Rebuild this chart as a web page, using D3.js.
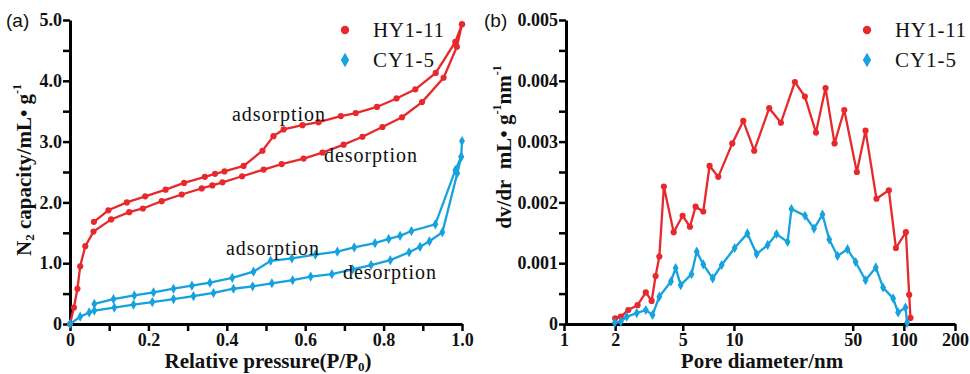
<!DOCTYPE html>
<html>
<head>
<meta charset="utf-8">
<script src="https://cdn.jsdelivr.net/npm/d3@7"></script>
<style>
  body { margin: 0; background: #fff; }
</style>
</head>
<body>
<svg id="chart" width="970" height="374"></svg>
<script>
// (a) isotherms: [P/P0, volume]
var hyAds = [[0.061,1.68],[0.098,1.87],[0.145,2.00],[0.192,2.10],[0.244,2.21],[0.291,2.32],[0.344,2.42],[0.370,2.47],[0.394,2.51],[0.443,2.60],[0.491,2.85],[0.519,3.09],[0.545,3.20],[0.593,3.27],[0.634,3.32],[0.691,3.42],[0.729,3.47],[0.783,3.57],[0.833,3.71],[0.881,3.86],[0.933,4.13],[0.983,4.64],[1.0,4.93]];
var hyDes = [[0,0],[0.010,0.27],[0.019,0.58],[0.026,0.95],[0.039,1.28],[0.060,1.52],[0.105,1.72],[0.151,1.84],[0.186,1.90],[0.234,2.02],[0.285,2.13],[0.336,2.23],[0.363,2.28],[0.389,2.33],[0.439,2.43],[0.494,2.54],[0.540,2.63],[0.596,2.72],[0.644,2.82],[0.698,2.95],[0.746,3.08],[0.797,3.24],[0.847,3.40],[0.898,3.65],[0.953,4.05],[0.987,4.56],[1.0,4.93]];
var cyAds = [[0.062,0.33],[0.111,0.41],[0.164,0.47],[0.213,0.52],[0.264,0.58],[0.311,0.63],[0.357,0.68],[0.414,0.76],[0.468,0.86],[0.512,1.04],[0.566,1.08],[0.626,1.14],[0.682,1.19],[0.725,1.26],[0.778,1.33],[0.813,1.40],[0.842,1.45],[0.871,1.53],[0.932,1.64],[0.983,2.53],[0.998,2.75],[1.0,3.01]];
var cyDes = [[0,0],[0.026,0.12],[0.049,0.19],[0.062,0.22],[0.113,0.27],[0.162,0.32],[0.210,0.36],[0.264,0.41],[0.315,0.46],[0.366,0.51],[0.417,0.58],[0.466,0.62],[0.515,0.67],[0.568,0.72],[0.614,0.78],[0.668,0.82],[0.721,0.90],[0.768,0.97],[0.817,1.05],[0.865,1.18],[0.893,1.27],[0.917,1.36],[0.950,1.51],[0.988,2.48],[0.998,2.75]];

// (b) pore size distribution: [diameter nm, dv/dr]
var hyPore = [[2.00,0.000094],[2.16,0.00012],[2.39,0.00023],[2.71,0.00031],[3.03,0.00052],[3.28,0.00038],[3.46,0.00079],[3.64,0.00111],[3.87,0.00226],[4.42,0.00151],[4.99,0.00178],[5.51,0.00160],[5.95,0.00193],[6.60,0.00185],[7.19,0.00260],[8.09,0.00242],[9.78,0.00297],[11.35,0.00334],[13.16,0.00285],[16.13,0.00355],[18.9,0.00331],[22.84,0.00398],[26.16,0.00374],[30.4,0.00315],[34.6,0.00388],[39.1,0.00297],[44.6,0.00352],[52.9,0.00250],[59.5,0.00318],[69.0,0.00206],[81.6,0.00220],[89.8,0.00125],[102.8,0.00151],[107.5,0.00048],[109.4,0.00010]];
var cyPore = [[1.99,0.00002],[2.16,0.00004],[2.34,0.00012],[2.68,0.00018],[3.03,0.00023],[3.32,0.00015],[3.64,0.00045],[4.26,0.00070],[4.54,0.00092],[4.86,0.00064],[5.63,0.00082],[6.04,0.00119],[6.60,0.00098],[7.50,0.00075],[8.47,0.00097],[10.1,0.00125],[12.0,0.00149],[13.6,0.00115],[15.8,0.00130],[17.8,0.00148],[20.7,0.00135],[21.8,0.00189],[26.2,0.00178],[29.6,0.00157],[33.2,0.00180],[36.4,0.00139],[40.7,0.00112],[46.6,0.00123],[52.0,0.00102],[59.5,0.00072],[68.4,0.00093],[75.5,0.00060],[86.5,0.00042],[92.5,0.00019],[102.3,0.00027],[104.5,0.00002]];

var xTicksA = [0,0.1,0.2,0.3,0.4,0.5,0.6,0.7,0.8,0.9,1.0];
var yTicksA = [0,0.5,1,1.5,2,2.5,3,3.5,4,4.5,5];
var xTicksB = [1,2,5,10,50,100,200];
var yTicksB = [0,0.0005,0.001,0.0015,0.002,0.0025,0.003,0.0035,0.004,0.0045,0.005];
var seriesNames = ["HY1-11","CY1-5"];

var red = "#e8292c", blue = "#16a2de";
var svg = d3.select("#chart");
var plotTop = 20, plotBottom = 324;
var serif = "Liberation Serif, serif";

function styleAxis(g) {
  g.select(".domain").attr("stroke-width", 3).attr("stroke", "#000");
  g.selectAll(".tick line").attr("stroke-width", 2.5).attr("stroke", "#000");
  g.selectAll(".tick text").attr("fill", "#111")
    .attr("font-family", serif).attr("font-weight", "bold").attr("font-size", 18);
}

function drawMarkers(g, data, x, y, color, shape) {
  var line = d3.line().x(d => x(d[0])).y(d => y(d[1]));
  g.append("path").attr("d", line(data)).attr("fill", "none")
    .attr("stroke", color).attr("stroke-width", 2.3);
  g.selectAll(null).data(data).enter().append("path")
    .attr("transform", d => "translate(" + x(d[0]) + "," + y(d[1]) + ")")
    .attr("d", d3.symbol().type(shape).size(30)())
    .attr("fill", color);
}

function legend(x0, color1, color2) {
  var lg = svg.append("g");
  lg.append("path").attr("transform", "translate(" + x0 + ",30)")
    .attr("d", d3.symbol().type(d3.symbolCircle).size(55)()).attr("fill", color1);
  lg.append("path").attr("transform", "translate(" + x0 + ",60)")
    .attr("d", d3.symbol().type(d3.symbolDiamond).size(60)()).attr("fill", color2);
  lg.selectAll("text").data(seriesNames).enter().append("text")
    .attr("x", x0 + 28).attr("y", (d, i) => 37 + i * 30)
    .attr("font-family", serif).attr("font-size", 21)
    .attr("textLength", (d, i) => i == 0 ? 71 : 61)
    .attr("fill", "#111").text(d => d);
}

function label(x, y, txt) {
  svg.append("text").attr("x", x).attr("y", y).text(txt)
    .attr("font-family", serif).attr("font-size", 20)
    .attr("textLength", 93).attr("fill", "#111");
}

// ---------- panel (a)
var xa = d3.scaleLinear().domain([0, 1]).range([70, 462]);
var ya = d3.scaleLinear().domain([0, 5]).range([plotBottom, plotTop]);

svg.append("g").attr("transform", "translate(0," + plotBottom + ")")
  .call(d3.axisBottom(xa).tickValues(xTicksA).tickSize(7).tickSizeOuter(0)
    .tickFormat(d => (Math.round(d * 10) % 2 == 0) ? (d == 0 ? "0" : d3.format(".1f")(d)) : ""))
  .call(styleAxis)
  .selectAll(".tick text").attr("y", 9).attr("dy", "0.71em");

svg.append("g").attr("transform", "translate(70,0)")
  .call(d3.axisLeft(ya).tickValues(yTicksA).tickSize(7).tickSizeOuter(0)
    .tickFormat(d => d % 1 == 0 ? (d == 0 ? "0" : d3.format(".1f")(d)) : ""))
  .call(styleAxis)
  .selectAll(".tick text").attr("x", -8);

var ga = svg.append("g");
drawMarkers(ga, hyAds, xa, ya, red, d3.symbolCircle);
drawMarkers(ga, hyDes, xa, ya, red, d3.symbolCircle);
drawMarkers(ga, cyAds, xa, ya, blue, d3.symbolDiamond);
drawMarkers(ga, cyDes, xa, ya, blue, d3.symbolDiamond);

label(232, 121, "adsorption");
label(324, 162, "desorption");
label(226, 255, "adsorption");
label(343, 279, "desorption");
legend(345, red, blue);

svg.append("text").attr("x", 6).attr("y", 27).text("(a)")
  .attr("font-family", "Liberation Sans, sans-serif").attr("font-size", 19).attr("fill", "#111");

var xla = svg.append("text").attr("x", 268).attr("y", 368).attr("text-anchor", "middle")
  .attr("font-family", serif).attr("font-weight", "bold").attr("font-size", 21).attr("fill", "#111");
xla.append("tspan").text("Relative pressure(P/P");
xla.append("tspan").text("0").attr("font-size", 13).attr("dy", 3);
xla.append("tspan").text(")").attr("dy", -3);

var yla = svg.append("text").attr("transform", "translate(31,170) rotate(-90)").attr("text-anchor", "middle")
  .attr("font-family", serif).attr("font-weight", "bold").attr("font-size", 21).attr("fill", "#111");
yla.append("tspan").text("N");
yla.append("tspan").text("2").attr("font-size", 13).attr("dy", 3);
yla.append("tspan").text(" capacity/mL\u2022 g").attr("dy", -3);
yla.append("tspan").text("-1").attr("font-size", 12).attr("dy", -10);

// ---------- panel (b)
var xb = d3.scaleLog().domain([1, 200]).range([564, 955]);
var yb = d3.scaleLinear().domain([0, 0.005]).range([plotBottom, plotTop]);

svg.append("g").attr("transform", "translate(0," + plotBottom + ")")
  .call(d3.axisBottom(xb).tickValues(xTicksB).tickSize(7).tickSizeOuter(0).tickFormat(d3.format("d")))
  .call(styleAxis)
  .selectAll(".tick text").attr("y", 9).attr("dy", "0.71em");

svg.append("g").attr("transform", "translate(566,0)")
  .call(d3.axisLeft(yb).tickValues(yTicksB).tickSize(7).tickSizeOuter(0)
    .tickFormat(d => Math.abs(d * 1000 - Math.round(d * 1000)) < 1e-9 ? (d == 0 ? "0" : d3.format(".3f")(d)) : ""))
  .call(styleAxis)
  .selectAll(".tick text").attr("x", -8);

var gb = svg.append("g");
drawMarkers(gb, hyPore, xb, yb, red, d3.symbolCircle);
drawMarkers(gb, cyPore, xb, yb, blue, d3.symbolDiamond);
legend(867, red, blue);

svg.append("text").attr("x", 484).attr("y", 27).text("(b)")
  .attr("font-family", "Liberation Sans, sans-serif").attr("font-size", 19).attr("fill", "#111");

svg.append("text").attr("x", 762).attr("y", 368).attr("text-anchor", "middle")
  .attr("font-family", serif).attr("font-weight", "bold").attr("font-size", 21).attr("fill", "#111")
  .text("Pore diameter/nm");

var ylb = svg.append("text").attr("transform", "translate(511,147) rotate(-90)").attr("text-anchor", "middle")
  .attr("font-family", serif).attr("font-weight", "bold").attr("font-size", 21).attr("fill", "#111");
ylb.append("tspan").text("dv/dr\u00a0\u00a0mL\u2022 g");
ylb.append("tspan").text("-1").attr("font-size", 12).attr("dy", -10);
ylb.append("tspan").text("nm").attr("dy", 10);
ylb.append("tspan").text("-1").attr("font-size", 12).attr("dy", -10);
</script>
</body>
</html>
